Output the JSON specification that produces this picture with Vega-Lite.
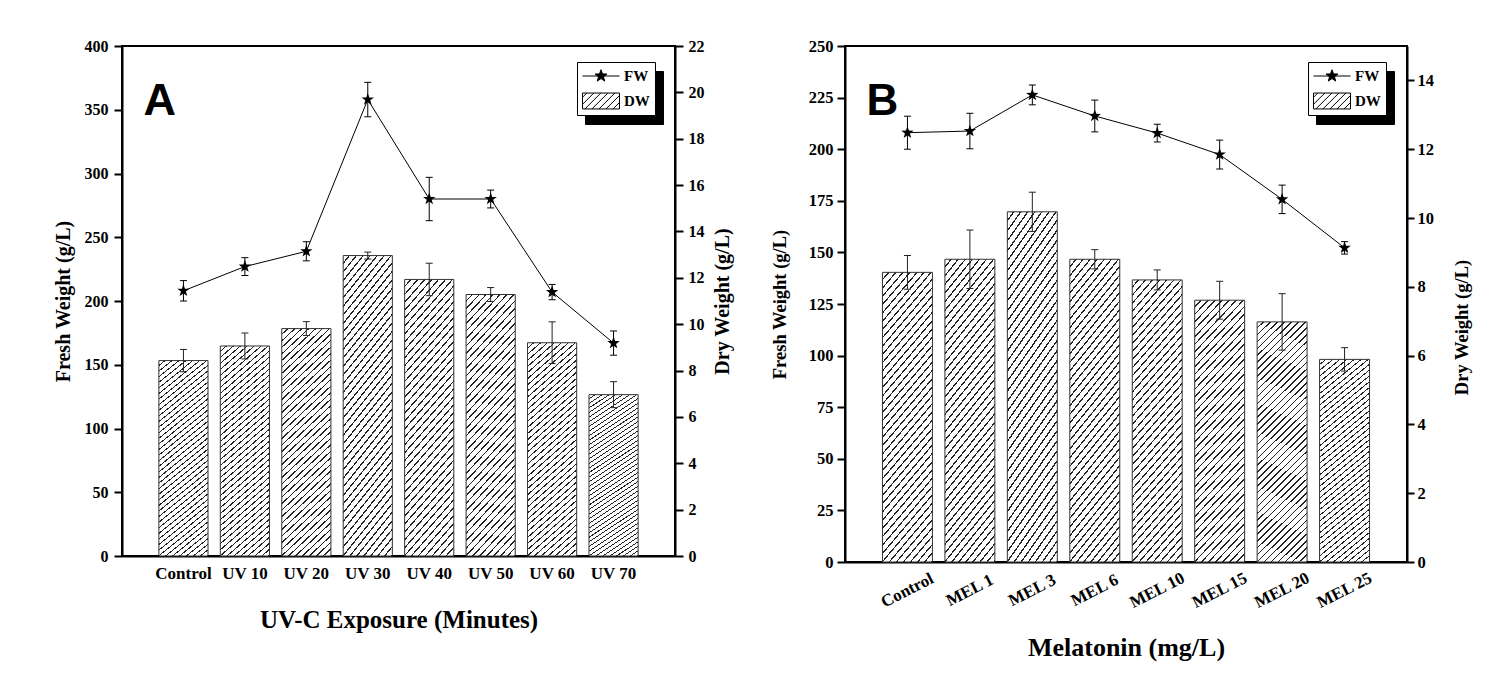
{
  "$schema": "https://vega.github.io/schema/vega-lite/v6.json",
  "background": "white",
  "padding": {"left": 52, "top": 37, "right": 5, "bottom": 5},
  "spacing": 36,
  "hconcat": [
    {
      "width": 553,
      "height": 510,
      "data": {"values": [
        {"cat": "Control", "FW": 208, "FWlo": 200, "FWhi": 216, "DW": 8.43, "DWlo": 7.95, "DWhi": 8.91},
        {"cat": "UV 10", "FW": 227, "FWlo": 220, "FWhi": 234, "DW": 9.06, "DWlo": 8.5, "DWhi": 9.62},
        {"cat": "UV 20", "FW": 239, "FWlo": 231.5, "FWhi": 246.5, "DW": 9.81, "DWlo": 9.51, "DWhi": 10.11},
        {"cat": "UV 30", "FW": 358, "FWlo": 344.5, "FWhi": 371.5, "DW": 12.96, "DWlo": 12.81, "DWhi": 13.11},
        {"cat": "UV 40", "FW": 280, "FWlo": 263, "FWhi": 297, "DW": 11.93, "DWlo": 11.23, "DWhi": 12.63},
        {"cat": "UV 50", "FW": 280, "FWlo": 273, "FWhi": 287, "DW": 11.28, "DWlo": 10.98, "DWhi": 11.58},
        {"cat": "UV 60", "FW": 207, "FWlo": 201, "FWhi": 213, "DW": 9.2, "DWlo": 8.3, "DWhi": 10.1},
        {"cat": "UV 70", "FW": 167, "FWlo": 157.5, "FWhi": 176.5, "DW": 6.96, "DWlo": 6.4, "DWhi": 7.52}
      ]},
      "encoding": {
        "x": {"field": "cat", "type": "nominal", "sort": null,
          "scale": {"paddingInner": 0.2, "paddingOuter": 0.6},
          "axis": {"title": "UV-C Exposure (Minutes)", "labelAngle": 0, "labelFontSize": 17, "ticks": false, "tickSize": 0, "labelPadding": 9, "titleFontSize": 25, "titlePadding": 26}}
      },
      "layer": [
        {"mark": {"type": "bar"},
         "encoding": {"y": {"field": "DW", "type": "quantitative", "scale": {"domain": [0, 22], "nice": false},
           "axis": {"orient": "right", "values": [0, 2, 4, 6, 8, 10, 12, 14, 16, 18, 20, 22], "title": "Dry Weight (g/L)", "titleAngle": 270, "titleBaseline": "top", "titleFontSize": 20, "titlePadding": 8, "tickSize": 8, "labelPadding": 5, "labelFontSize": 16}}}},
        {"mark": {"type": "rule", "color": "#222", "strokeWidth": 1},
         "encoding": {"y": {"field": "DWlo", "type": "quantitative", "scale": {"domain": [0, 22], "nice": false}, "axis": null}, "y2": {"field": "DWhi"}}},
        {"mark": {"type": "tick", "color": "#222", "thickness": 1, "size": 7, "opacity": 1},
         "encoding": {"y": {"field": "DWlo", "type": "quantitative", "scale": {"domain": [0, 22], "nice": false}, "axis": null}}},
        {"mark": {"type": "tick", "color": "#222", "thickness": 1, "size": 7, "opacity": 1},
         "encoding": {"y": {"field": "DWhi", "type": "quantitative", "scale": {"domain": [0, 22], "nice": false}, "axis": null}}},
        {"mark": {"type": "line", "color": "black", "strokeWidth": 1},
         "encoding": {"y": {"field": "FW", "type": "quantitative", "scale": {"domain": [0, 400], "nice": false},
           "axis": {"orient": "left", "values": [0, 50, 100, 150, 200, 250, 300, 350, 400], "title": "Fresh Weight (g/L)", "titleFontSize": 20, "titlePadding": 11, "tickSize": 8, "labelPadding": 6, "labelFontSize": 16}}}},
        {"mark": {"type": "rule", "color": "black", "strokeWidth": 1},
         "encoding": {"y": {"field": "FWlo", "type": "quantitative", "scale": {"domain": [0, 400], "nice": false}, "axis": null}, "y2": {"field": "FWhi"}}},
        {"mark": {"type": "tick", "color": "black", "thickness": 1, "size": 7, "opacity": 1},
         "encoding": {"y": {"field": "FWlo", "type": "quantitative", "scale": {"domain": [0, 400], "nice": false}, "axis": null}}},
        {"mark": {"type": "tick", "color": "black", "thickness": 1, "size": 7, "opacity": 1},
         "encoding": {"y": {"field": "FWhi", "type": "quantitative", "scale": {"domain": [0, 400], "nice": false}, "axis": null}}},
        {"mark": {"type": "point", "shape": "M0,-1L0.235,-0.324L0.951,-0.309L0.38,0.124L0.588,0.809L0,0.4L-0.588,0.809L-0.38,0.124L-0.951,-0.309L-0.235,-0.324Z", "filled": true, "color": "black", "size": 169, "opacity": 1},
         "encoding": {"y": {"field": "FW", "type": "quantitative", "scale": {"domain": [0, 400], "nice": false}, "axis": null}}},
        {"data": {"values": [{"panel": "A"}]},
         "mark": {"type": "text", "font": "Liberation Sans", "fontSize": 45, "fontWeight": "bold", "color": "black", "align": "left", "baseline": "alphabetic", "dx": -40},
         "encoding": {"x": {"datum": "Control", "type": "nominal"}, "y": {"datum": 346, "type": "quantitative", "scale": {"domain": [0, 400], "nice": false}, "axis": null}, "text": {"field": "panel"}}},
        {
          "transform": [{"filter": "false"}],
          "mark": {"type": "point", "filled": true, "color": "black"},
          "encoding": {
            "shape": {"datum": "FW", "type": "nominal",
              "scale": {"domain": ["FW", "DW"], "range": [
                "M-1,0L1,0M0,-0.34L0.0823,-0.1133L0.3234,-0.105L0.1331,0.0433L0.1998,0.275L0,0.14L-0.1998,0.275L-0.1331,0.0433L-0.3234,-0.105L-0.0823,-0.1133Z",
                "M-1,-0.43L1,-0.43L1,0.43L-1,0.43ZM-1,-0.2L-0.77,-0.43M-1,0.18L-0.39,-0.43M-0.87,0.43L-0.01,-0.43M-0.49,0.43L0.37,-0.43M-0.11,0.43L0.75,-0.43M0.27,0.43L1,-0.3M0.65,0.43L1,0.08"]},
              "legend": {"orient": "none", "legendX": 455, "legendY": 16, "title": null, "fillColor": "white", "strokeColor": "black", "padding": 5, "symbolSize": 1369, "clipHeight": 18, "rowPadding": 7, "labelFont": "Liberation Serif", "labelFontWeight": "bold", "labelFontSize": 15, "labelColor": "black", "labelOffset": 4, "symbolStrokeWidth": 1, "symbolOpacity": 1, "zindex": 2}},
            "fill": {"datum": "FW", "type": "nominal", "scale": {"domain": ["FW", "DW"], "range": ["black", "white"]}},
            "stroke": {"datum": "FW", "type": "nominal", "scale": {"domain": ["FW", "DW"], "range": ["black", "black"]}},
            "strokeDash": {"datum": "FW ", "type": "nominal", "scale": {"domain": ["FW ", "DW "], "range": [[1, 0], [1, 0]]},
              "legend": {"orient": "none", "legendX": 463, "legendY": 25, "title": null, "fillColor": "black", "strokeColor": "black", "padding": 5, "symbolSize": 1369, "clipHeight": 18, "rowPadding": 7, "symbolType": "M-1,-0.43L1,-0.43L1,0.43L-1,0.43Z", "symbolFillColor": "black", "symbolStrokeColor": "black", "symbolStrokeWidth": 1, "labelFont": "Liberation Serif", "labelFontWeight": "bold", "labelFontSize": 15, "labelColor": "black", "labelOffset": 4, "labelExpr": "trim(datum.label)", "zindex": 1}}
          }
        }
      ],
      "resolve": {"scale": {"y": "independent"}}
    },
    {
      "width": 562,
      "height": 516,
      "data": {"values": [
        {"cat": "Control", "FW": 208, "FWlo": 200, "FWhi": 216, "DW": 8.42, "DWlo": 7.93, "DWhi": 8.91},
        {"cat": "MEL 1", "FW": 208.8, "FWlo": 200.2, "FWhi": 217.4, "DW": 8.8, "DWlo": 7.95, "DWhi": 9.65},
        {"cat": "MEL 3", "FW": 226.3, "FWlo": 221.5, "FWhi": 231.1, "DW": 10.18, "DWlo": 9.61, "DWhi": 10.75},
        {"cat": "MEL 6", "FW": 216.1, "FWlo": 208.4, "FWhi": 223.8, "DW": 8.8, "DWlo": 8.52, "DWhi": 9.08},
        {"cat": "MEL 10", "FW": 207.8, "FWlo": 203.5, "FWhi": 212.1, "DW": 8.2, "DWlo": 7.91, "DWhi": 8.49},
        {"cat": "MEL 15", "FW": 197.4, "FWlo": 190.4, "FWhi": 204.4, "DW": 7.61, "DWlo": 7.06, "DWhi": 8.16},
        {"cat": "MEL 20", "FW": 175.7, "FWlo": 168.8, "FWhi": 182.6, "DW": 6.98, "DWlo": 6.16, "DWhi": 7.8},
        {"cat": "MEL 25", "FW": 152.2, "FWlo": 149.2, "FWhi": 155.2, "DW": 5.89, "DWlo": 5.55, "DWhi": 6.23}
      ]},
      "encoding": {
        "x": {"field": "cat", "type": "nominal", "sort": null,
          "scale": {"paddingInner": 0.2, "paddingOuter": 0.6},
          "axis": {"title": "Melatonin (mg/L)", "labelAngle": -27, "labelAlign": "center", "labelBaseline": "middle", "labelFontSize": 17, "ticks": false, "tickSize": 0, "labelPadding": 28, "titleFontSize": 26, "titlePadding": 24}}
      },
      "layer": [
        {"mark": {"type": "bar"},
         "encoding": {"y": {"field": "DW", "type": "quantitative", "scale": {"domain": [0, 15], "nice": false},
           "axis": {"orient": "right", "values": [0, 2, 4, 6, 8, 10, 12, 14], "title": "Dry Weight (g/L)", "titleAngle": 270, "titleBaseline": "top", "titleFontSize": 18.5, "titlePadding": 19, "titleY": 281, "tickSize": 7, "labelPadding": 3, "labelFontSize": 16.5}}}},
        {"mark": {"type": "rule", "color": "#222", "strokeWidth": 1},
         "encoding": {"y": {"field": "DWlo", "type": "quantitative", "scale": {"domain": [0, 15], "nice": false}, "axis": null}, "y2": {"field": "DWhi"}}},
        {"mark": {"type": "tick", "color": "#222", "thickness": 1, "size": 7, "opacity": 1},
         "encoding": {"y": {"field": "DWlo", "type": "quantitative", "scale": {"domain": [0, 15], "nice": false}, "axis": null}}},
        {"mark": {"type": "tick", "color": "#222", "thickness": 1, "size": 7, "opacity": 1},
         "encoding": {"y": {"field": "DWhi", "type": "quantitative", "scale": {"domain": [0, 15], "nice": false}, "axis": null}}},
        {"mark": {"type": "line", "color": "black", "strokeWidth": 1},
         "encoding": {"y": {"field": "FW", "type": "quantitative", "scale": {"domain": [0, 250], "nice": false},
           "axis": {"orient": "left", "values": [0, 25, 50, 75, 100, 125, 150, 175, 200, 225, 250], "title": "Fresh Weight (g/L)", "titleFontSize": 18.5, "titlePadding": 19, "tickSize": 8, "labelPadding": 4, "labelFontSize": 16.5}}}},
        {"mark": {"type": "rule", "color": "black", "strokeWidth": 1},
         "encoding": {"y": {"field": "FWlo", "type": "quantitative", "scale": {"domain": [0, 250], "nice": false}, "axis": null}, "y2": {"field": "FWhi"}}},
        {"mark": {"type": "tick", "color": "black", "thickness": 1, "size": 7, "opacity": 1},
         "encoding": {"y": {"field": "FWlo", "type": "quantitative", "scale": {"domain": [0, 250], "nice": false}, "axis": null}}},
        {"mark": {"type": "tick", "color": "black", "thickness": 1, "size": 7, "opacity": 1},
         "encoding": {"y": {"field": "FWhi", "type": "quantitative", "scale": {"domain": [0, 250], "nice": false}, "axis": null}}},
        {"mark": {"type": "point", "shape": "M0,-1L0.235,-0.324L0.951,-0.309L0.38,0.124L0.588,0.809L0,0.4L-0.588,0.809L-0.38,0.124L-0.951,-0.309L-0.235,-0.324Z", "filled": true, "color": "black", "size": 169, "opacity": 1},
         "encoding": {"y": {"field": "FW", "type": "quantitative", "scale": {"domain": [0, 250], "nice": false}, "axis": null}}},
        {"data": {"values": [{"panel": "B"}]},
         "mark": {"type": "text", "font": "Liberation Sans", "fontSize": 44, "fontWeight": "bold", "color": "black", "align": "left", "baseline": "alphabetic", "dx": -41},
         "encoding": {"x": {"datum": "Control", "type": "nominal"}, "y": {"datum": 216.6, "type": "quantitative", "scale": {"domain": [0, 250], "nice": false}, "axis": null}, "text": {"field": "panel"}}},
        {
          "transform": [{"filter": "false"}],
          "mark": {"type": "point", "filled": true, "color": "black"},
          "encoding": {
            "shape": {"datum": "FW", "type": "nominal",
              "scale": {"domain": ["FW", "DW"], "range": [
                "M-1,0L1,0M0,-0.34L0.0823,-0.1133L0.3234,-0.105L0.1331,0.0433L0.1998,0.275L0,0.14L-0.1998,0.275L-0.1331,0.0433L-0.3234,-0.105L-0.0823,-0.1133Z",
                "M-1,-0.43L1,-0.43L1,0.43L-1,0.43ZM-1,-0.2L-0.77,-0.43M-1,0.18L-0.39,-0.43M-0.87,0.43L-0.01,-0.43M-0.49,0.43L0.37,-0.43M-0.11,0.43L0.75,-0.43M0.27,0.43L1,-0.3M0.65,0.43L1,0.08"]},
              "legend": {"orient": "none", "legendX": 463, "legendY": 16, "title": null, "fillColor": "white", "strokeColor": "black", "padding": 5, "symbolSize": 1369, "clipHeight": 18, "rowPadding": 7, "labelFont": "Liberation Serif", "labelFontWeight": "bold", "labelFontSize": 15, "labelColor": "black", "labelOffset": 4, "symbolStrokeWidth": 1, "symbolOpacity": 1, "zindex": 2}},
            "fill": {"datum": "FW", "type": "nominal", "scale": {"domain": ["FW", "DW"], "range": ["black", "white"]}},
            "stroke": {"datum": "FW", "type": "nominal", "scale": {"domain": ["FW", "DW"], "range": ["black", "black"]}},
            "strokeDash": {"datum": "FW ", "type": "nominal", "scale": {"domain": ["FW ", "DW "], "range": [[1, 0], [1, 0]]},
              "legend": {"orient": "none", "legendX": 471, "legendY": 25, "title": null, "fillColor": "black", "strokeColor": "black", "padding": 5, "symbolSize": 1369, "clipHeight": 18, "rowPadding": 7, "symbolType": "M-1,-0.43L1,-0.43L1,0.43L-1,0.43Z", "symbolFillColor": "black", "symbolStrokeColor": "black", "symbolStrokeWidth": 1, "labelFont": "Liberation Serif", "labelFontWeight": "bold", "labelFontSize": 15, "labelColor": "black", "labelOffset": 4, "labelExpr": "trim(datum.label)", "zindex": 1}}
          }
        }
      ],
      "resolve": {"scale": {"y": "independent"}}
    }
  ],
  "resolve": {
    "scale": {"shape": "independent", "fill": "independent", "stroke": "independent", "strokeDash": "independent"},
    "legend": {"shape": "independent", "fill": "independent", "stroke": "independent", "strokeDash": "independent"}
  },
  "config": {
    "font": "Liberation Serif",
    "view": {"stroke": "black", "strokeWidth": 2},
    "axis": {"labelFont": "Liberation Serif", "labelFontWeight": "bold", "labelColor": "black", "titleFont": "Liberation Serif", "titleFontWeight": "bold", "titleColor": "black", "domainColor": "black", "domainWidth": 2, "tickColor": "black", "tickWidth": 2, "grid": false},
    "bar": {
      "stroke": "#333",
      "strokeWidth": 1,
      "fill": {"gradient": "linear", "x1": 0, "y1": 0, "x2": 0.234, "y2": 1.155, "stops": [
        {"offset": 0, "color": "white"},
        {"offset": 0.01857, "color": "white"}, {"offset": 0.01857, "color": "#222"}, {"offset": 0.02381, "color": "#222"}, {"offset": 0.02381, "color": "white"},
        {"offset": 0.04238, "color": "white"}, {"offset": 0.04238, "color": "#222"}, {"offset": 0.04762, "color": "#222"}, {"offset": 0.04762, "color": "white"},
        {"offset": 0.06619, "color": "white"}, {"offset": 0.06619, "color": "#222"}, {"offset": 0.07143, "color": "#222"}, {"offset": 0.07143, "color": "white"},
        {"offset": 0.09, "color": "white"}, {"offset": 0.09, "color": "#222"}, {"offset": 0.09524, "color": "#222"}, {"offset": 0.09524, "color": "white"},
        {"offset": 0.11381, "color": "white"}, {"offset": 0.11381, "color": "#222"}, {"offset": 0.11905, "color": "#222"}, {"offset": 0.11905, "color": "white"},
        {"offset": 0.13762, "color": "white"}, {"offset": 0.13762, "color": "#222"}, {"offset": 0.14286, "color": "#222"}, {"offset": 0.14286, "color": "white"},
        {"offset": 0.16143, "color": "white"}, {"offset": 0.16143, "color": "#222"}, {"offset": 0.16667, "color": "#222"}, {"offset": 0.16667, "color": "white"},
        {"offset": 0.18524, "color": "white"}, {"offset": 0.18524, "color": "#222"}, {"offset": 0.19048, "color": "#222"}, {"offset": 0.19048, "color": "white"},
        {"offset": 0.20905, "color": "white"}, {"offset": 0.20905, "color": "#222"}, {"offset": 0.21429, "color": "#222"}, {"offset": 0.21429, "color": "white"},
        {"offset": 0.23286, "color": "white"}, {"offset": 0.23286, "color": "#222"}, {"offset": 0.2381, "color": "#222"}, {"offset": 0.2381, "color": "white"},
        {"offset": 0.25667, "color": "white"}, {"offset": 0.25667, "color": "#222"}, {"offset": 0.2619, "color": "#222"}, {"offset": 0.2619, "color": "white"},
        {"offset": 0.28047, "color": "white"}, {"offset": 0.28047, "color": "#222"}, {"offset": 0.28571, "color": "#222"}, {"offset": 0.28571, "color": "white"},
        {"offset": 0.30428, "color": "white"}, {"offset": 0.30428, "color": "#222"}, {"offset": 0.30952, "color": "#222"}, {"offset": 0.30952, "color": "white"},
        {"offset": 0.32809, "color": "white"}, {"offset": 0.32809, "color": "#222"}, {"offset": 0.33333, "color": "#222"}, {"offset": 0.33333, "color": "white"},
        {"offset": 0.3519, "color": "white"}, {"offset": 0.3519, "color": "#222"}, {"offset": 0.35714, "color": "#222"}, {"offset": 0.35714, "color": "white"},
        {"offset": 0.37571, "color": "white"}, {"offset": 0.37571, "color": "#222"}, {"offset": 0.38095, "color": "#222"}, {"offset": 0.38095, "color": "white"},
        {"offset": 0.39952, "color": "white"}, {"offset": 0.39952, "color": "#222"}, {"offset": 0.40476, "color": "#222"}, {"offset": 0.40476, "color": "white"},
        {"offset": 0.42333, "color": "white"}, {"offset": 0.42333, "color": "#222"}, {"offset": 0.42857, "color": "#222"}, {"offset": 0.42857, "color": "white"},
        {"offset": 0.44714, "color": "white"}, {"offset": 0.44714, "color": "#222"}, {"offset": 0.45238, "color": "#222"}, {"offset": 0.45238, "color": "white"},
        {"offset": 0.47095, "color": "white"}, {"offset": 0.47095, "color": "#222"}, {"offset": 0.47619, "color": "#222"}, {"offset": 0.47619, "color": "white"},
        {"offset": 0.49476, "color": "white"}, {"offset": 0.49476, "color": "#222"}, {"offset": 0.5, "color": "#222"}, {"offset": 0.5, "color": "white"},
        {"offset": 0.51857, "color": "white"}, {"offset": 0.51857, "color": "#222"}, {"offset": 0.52381, "color": "#222"}, {"offset": 0.52381, "color": "white"},
        {"offset": 0.54238, "color": "white"}, {"offset": 0.54238, "color": "#222"}, {"offset": 0.54762, "color": "#222"}, {"offset": 0.54762, "color": "white"},
        {"offset": 0.56619, "color": "white"}, {"offset": 0.56619, "color": "#222"}, {"offset": 0.57143, "color": "#222"}, {"offset": 0.57143, "color": "white"},
        {"offset": 0.59, "color": "white"}, {"offset": 0.59, "color": "#222"}, {"offset": 0.59524, "color": "#222"}, {"offset": 0.59524, "color": "white"},
        {"offset": 0.61381, "color": "white"}, {"offset": 0.61381, "color": "#222"}, {"offset": 0.61905, "color": "#222"}, {"offset": 0.61905, "color": "white"},
        {"offset": 0.63762, "color": "white"}, {"offset": 0.63762, "color": "#222"}, {"offset": 0.64286, "color": "#222"}, {"offset": 0.64286, "color": "white"},
        {"offset": 0.66143, "color": "white"}, {"offset": 0.66143, "color": "#222"}, {"offset": 0.66667, "color": "#222"}, {"offset": 0.66667, "color": "white"},
        {"offset": 0.68524, "color": "white"}, {"offset": 0.68524, "color": "#222"}, {"offset": 0.69048, "color": "#222"}, {"offset": 0.69048, "color": "white"},
        {"offset": 0.70905, "color": "white"}, {"offset": 0.70905, "color": "#222"}, {"offset": 0.71429, "color": "#222"}, {"offset": 0.71429, "color": "white"},
        {"offset": 0.73286, "color": "white"}, {"offset": 0.73286, "color": "#222"}, {"offset": 0.7381, "color": "#222"}, {"offset": 0.7381, "color": "white"},
        {"offset": 0.75667, "color": "white"}, {"offset": 0.75667, "color": "#222"}, {"offset": 0.7619, "color": "#222"}, {"offset": 0.7619, "color": "white"},
        {"offset": 0.78048, "color": "white"}, {"offset": 0.78048, "color": "#222"}, {"offset": 0.78571, "color": "#222"}, {"offset": 0.78571, "color": "white"},
        {"offset": 0.80428, "color": "white"}, {"offset": 0.80428, "color": "#222"}, {"offset": 0.80952, "color": "#222"}, {"offset": 0.80952, "color": "white"},
        {"offset": 0.82809, "color": "white"}, {"offset": 0.82809, "color": "#222"}, {"offset": 0.83333, "color": "#222"}, {"offset": 0.83333, "color": "white"},
        {"offset": 0.8519, "color": "white"}, {"offset": 0.8519, "color": "#222"}, {"offset": 0.85714, "color": "#222"}, {"offset": 0.85714, "color": "white"},
        {"offset": 0.87571, "color": "white"}, {"offset": 0.87571, "color": "#222"}, {"offset": 0.88095, "color": "#222"}, {"offset": 0.88095, "color": "white"},
        {"offset": 0.89952, "color": "white"}, {"offset": 0.89952, "color": "#222"}, {"offset": 0.90476, "color": "#222"}, {"offset": 0.90476, "color": "white"},
        {"offset": 0.92333, "color": "white"}, {"offset": 0.92333, "color": "#222"}, {"offset": 0.92857, "color": "#222"}, {"offset": 0.92857, "color": "white"},
        {"offset": 0.94714, "color": "white"}, {"offset": 0.94714, "color": "#222"}, {"offset": 0.95238, "color": "#222"}, {"offset": 0.95238, "color": "white"},
        {"offset": 0.97095, "color": "white"}, {"offset": 0.97095, "color": "#222"}, {"offset": 0.97619, "color": "#222"}, {"offset": 0.97619, "color": "white"},
        {"offset": 0.99476, "color": "white"}, {"offset": 0.99476, "color": "#222"}, {"offset": 1, "color": "#222"}
      ]}
    }
  }
}
